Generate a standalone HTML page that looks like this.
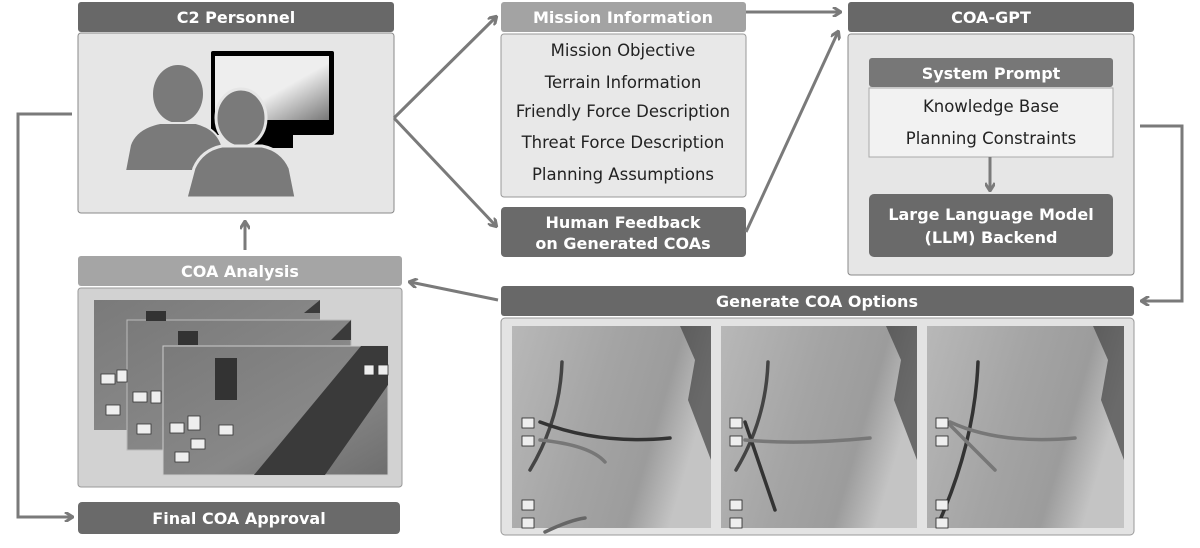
<!DOCTYPE html>
<html><head><meta charset="utf-8"><style>
body{margin:0;width:1200px;height:548px;background:#fff;overflow:hidden;font-family:"DejaVu Sans","Liberation Sans",sans-serif;}
svg{position:absolute;left:0;top:0}
</style></head><body>
<svg width="1200" height="548" viewBox="0 0 1200 548">
<defs>
<linearGradient id="scr" x1="0" y1="0" x2="1" y2="1"><stop offset="0.55" stop-color="#eeeeee"/><stop offset="1" stop-color="#777"/></linearGradient>
<linearGradient id="map" x1="0" y1="0" x2="1" y2="0.3"><stop offset="0" stop-color="#b8b8b8"/><stop offset="0.5" stop-color="#a4a4a4"/><stop offset="0.8" stop-color="#9c9c9c"/><stop offset="1" stop-color="#c4c4c4"/></linearGradient>
<linearGradient id="ph" x1="0" y1="0" x2="1" y2="1"><stop offset="0" stop-color="#7a7a7a"/><stop offset="0.6" stop-color="#888"/><stop offset="1" stop-color="#6e6e6e"/></linearGradient>
<marker id="ah" markerWidth="10" markerHeight="10" refX="8" refY="5" orient="auto" markerUnits="userSpaceOnUse"><path d="M1,0 L9,5 L1,10" fill="none" stroke="#7a7a7a" stroke-width="3"/></marker>
</defs>
<g font-weight="bold" font-size="16" fill="#fff" text-anchor="middle">
<rect x="78" y="2" width="316" height="30" rx="3" fill="#686868"/>
<text x="236" y="23">C2 Personnel</text>
<rect x="78" y="33" width="316" height="180" rx="3" fill="#e6e6e6" stroke="#8a8a8a"/>
<rect x="501" y="2" width="245" height="30" rx="3" fill="#a3a3a3"/>
<text x="623" y="23">Mission Information</text>
<rect x="501" y="34" width="245" height="163" rx="3" fill="#e8e8e8" stroke="#999"/>
<rect x="501" y="207" width="245" height="50" rx="4" fill="#6a6a6a"/>
<text x="623" y="228">Human Feedback</text>
<text x="623" y="249">on Generated COAs</text>
<rect x="848" y="2" width="286" height="30" rx="3" fill="#686868"/>
<text x="991" y="23">COA-GPT</text>
<rect x="848" y="34" width="286" height="241" rx="3" fill="#e6e6e6" stroke="#8a8a8a"/>
<rect x="869" y="58" width="244" height="29" rx="3" fill="#777"/>
<text x="991" y="79">System Prompt</text>
<rect x="869" y="88" width="244" height="69" fill="#f2f2f2" stroke="#aaa"/>
<rect x="869" y="194" width="244" height="63" rx="5" fill="#6a6a6a"/>
<text x="991" y="220">Large Language Model</text>
<text x="991" y="243">(LLM) Backend</text>
<rect x="78" y="256" width="324" height="30" rx="3" fill="#a5a5a5"/>
<text x="240" y="277">COA Analysis</text>
<rect x="78" y="288" width="324" height="199" rx="3" fill="#d2d2d2" stroke="#999"/>
<rect x="78" y="502" width="322" height="32" rx="4" fill="#6a6a6a"/>
<text x="239" y="524">Final COA Approval</text>
<rect x="501" y="286" width="633" height="30" rx="3" fill="#686868"/>
<text x="817" y="307">Generate COA Options</text>
<rect x="501" y="318" width="633" height="217" rx="4" fill="#e3e3e3" stroke="#999"/>
</g>
<g font-size="16.5" fill="#222" text-anchor="middle">
<text x="623" y="56">Mission Objective</text>
<text x="623" y="88">Terrain Information</text>
<text x="623" y="117">Friendly Force Description</text>
<text x="623" y="148">Threat Force Description</text>
<text x="623" y="180">Planning Assumptions</text>
<text x="991" y="112">Knowledge Base</text>
<text x="991" y="144">Planning Constraints</text>
</g>
<!-- monitor & people -->
<rect x="211" y="51" width="123" height="84" rx="2" fill="#000"/>
<rect x="215" y="56" width="114" height="64" fill="url(#scr)"/>
<rect x="253" y="134" width="40" height="14" fill="#000"/>
<ellipse cx="178" cy="94" rx="25" ry="29" fill="#7a7a7a"/>
<path d="M125,171 L130,145 Q136,128 160,123 L196,123 Q216,128 222,145 L226,171 Z" fill="#7a7a7a" stroke="#e6e6e6" stroke-width="2"/>
<ellipse cx="241" cy="118" rx="25" ry="29" fill="#7a7a7a" stroke="#e6e6e6" stroke-width="3"/>
<path d="M186,198 L194,168 Q202,150 222,146 L262,146 Q282,150 290,168 L296,198 Z" fill="#7a7a7a" stroke="#e6e6e6" stroke-width="3"/>
<!-- COA analysis photos -->
<rect x="94" y="300" width="226" height="130" fill="url(#ph)"/>
<rect x="127" y="320" width="224" height="130" fill="url(#ph)" stroke="#bbb"/>
<rect x="163" y="346" width="225" height="129" fill="url(#ph)" stroke="#ccc"/>
<path d="M254,475 L361,346 L388,346 L388,385 L325,475 Z" fill="#3a3a3a"/>
<path d="M304,313 L320,300 L320,313 Z" fill="#3a3a3a"/>
<path d="M331,340 L351,320 L351,340 Z" fill="#3a3a3a"/>
<rect x="215" y="358" width="22" height="42" fill="#333"/>
<rect x="146" y="311" width="20" height="10" fill="#333"/>
<rect x="178" y="331" width="20" height="14" fill="#333"/>
<g fill="#eee" stroke="#333" stroke-width="0.8">
<rect x="101" y="374" width="14" height="10"/><rect x="117" y="370" width="10" height="12"/><rect x="133" y="392" width="14" height="10"/><rect x="151" y="391" width="10" height="12"/>
<rect x="106" y="405" width="14" height="10"/><rect x="137" y="424" width="14" height="10"/><rect x="170" y="423" width="14" height="10"/><rect x="188" y="416" width="12" height="14"/>
<rect x="219" y="425" width="14" height="10"/><rect x="175" y="452" width="14" height="10"/><rect x="191" y="439" width="14" height="10"/>
<rect x="364" y="365" width="10" height="10"/><rect x="378" y="365" width="10" height="10"/>
</g>
<!-- maps -->
<g>
<rect x="512" y="326" width="199" height="202" fill="url(#map)"/>
<rect x="721" y="326" width="196" height="202" fill="url(#map)"/>
<rect x="927" y="326" width="197" height="202" fill="url(#map)"/>
<path d="M680,326 L695,360 L688,400 L711,460 L711,326 Z" fill="#444" opacity="0.7"/>
<path d="M886,326 L901,360 L894,400 L917,460 L917,326 Z" fill="#444" opacity="0.7"/>
<path d="M1093,326 L1108,360 L1101,400 L1124,460 L1124,326 Z" fill="#444" opacity="0.7"/>
<g fill="none" stroke-width="3.5" stroke-linecap="round">
<path d="M530,470 Q560,420 562,362" stroke="#444"/>
<path d="M540,422 Q600,445 670,438" stroke="#333"/>
<path d="M540,440 Q590,445 605,462" stroke="#777"/>
<path d="M545,532 Q570,520 585,518" stroke="#666"/>
<path d="M736,470 Q766,420 768,362" stroke="#444"/>
<path d="M745,422 L775,510" stroke="#333"/>
<path d="M745,440 Q800,445 870,438" stroke="#777"/>
<path d="M940,520 Q975,440 978,362" stroke="#333"/>
<path d="M950,422 Q1000,445 1075,438" stroke="#777"/>
<path d="M945,420 L995,470" stroke="#777"/>
</g>
<g fill="#eee" stroke="#222" stroke-width="0.8">
<rect x="522" y="418" width="12" height="10"/><rect x="522" y="436" width="12" height="10"/><rect x="522" y="500" width="12" height="10"/><rect x="522" y="518" width="12" height="10"/>
<rect x="730" y="418" width="12" height="10"/><rect x="730" y="436" width="12" height="10"/><rect x="730" y="500" width="12" height="10"/><rect x="730" y="518" width="12" height="10"/>
<rect x="936" y="418" width="12" height="10"/><rect x="936" y="436" width="12" height="10"/><rect x="936" y="500" width="12" height="10"/><rect x="936" y="518" width="12" height="10"/>
</g>
</g>
<g fill="none" stroke="#7a7a7a" stroke-width="3">
<path d="M394,118 L496,17" marker-end="url(#ah)"/>
<path d="M394,118 L496,226" marker-end="url(#ah)"/>
<path d="M746,12 L840,12" marker-end="url(#ah)"/>
<path d="M746,232 L838,32" marker-end="url(#ah)"/>
<path d="M1140,126 L1182,126 L1182,301 L1142,301" marker-end="url(#ah)"/>
<path d="M990,157 L990,190" marker-end="url(#ah)"/>
<path d="M498,300 L410,282" marker-end="url(#ah)"/>
<path d="M245,250 L245,222" marker-end="url(#ah)"/>
<path d="M72,114 L18,114 L18,517 L72,517" marker-end="url(#ah)"/>
</g>
</svg>
</body></html>
